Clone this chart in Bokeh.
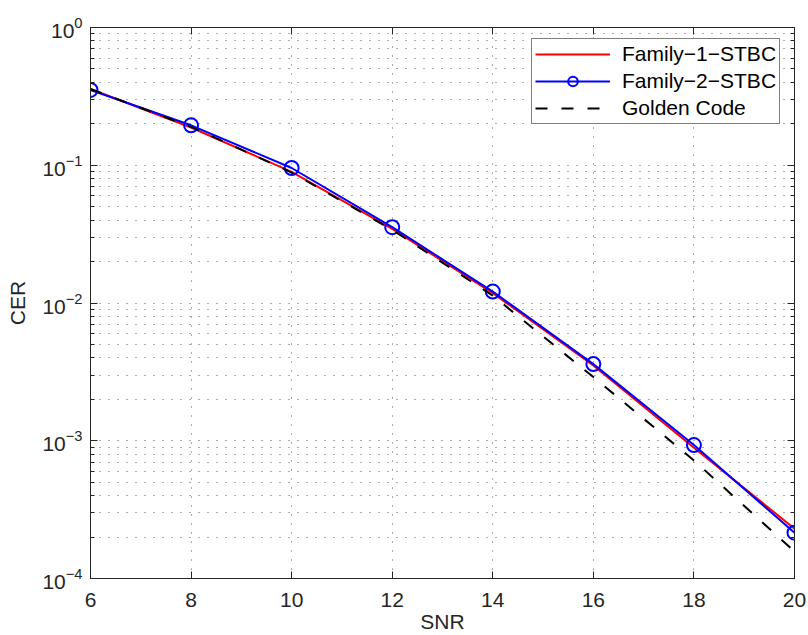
from bokeh.plotting import figure
from bokeh.models import (LogAxis, LinearAxis, FixedTicker, Range1d, Legend, LegendItem,
                          CustomJSTickFormatter, LogTickFormatter)
from bokeh.embed import file_html
from bokeh.resources import INLINE

snr = [6, 8, 10, 12, 14, 16, 18, 20]
family1_stbc = [0.358, 0.188, 0.0895, 0.0345, 0.0118, 0.00352, 0.00089, 0.00023]
family2_stbc = [0.352, 0.195, 0.0955, 0.0355, 0.0121, 0.0036, 0.00093, 0.000215]
golden_code = [0.358, 0.19, 0.0885, 0.034, 0.0113, 0.0029, 0.00072, 0.000157]

x_ticks = [6, 8, 10, 12, 14, 16, 18, 20]
y_ticks = [1e-4, 1e-3, 1e-2, 1e-1, 1.0]
y_minor = [k * 10.0 ** e for e in range(-4, 0) for k in range(2, 10)]

FONT = "Liberation Sans"
AXC = "#262626"

p = figure(width=808, height=635, x_range=Range1d(6, 20), y_range=Range1d(1e-4, 1),
           y_axis_type="log", output_backend="svg", toolbar_location=None,
           min_border_left=90, min_border_right=14, min_border_top=27, min_border_bottom=57,
           x_axis_label="SNR", y_axis_label="CER")
p.outline_line_color = AXC
p.background_fill_color = "white"
p.border_fill_color = "white"

xt = FixedTicker(ticks=x_ticks, minor_ticks=[])
yt = FixedTicker(ticks=y_ticks, minor_ticks=y_minor)
p.xaxis.ticker = xt
p.yaxis.ticker = yt
p.xgrid.ticker = xt
p.ygrid.ticker = yt
p.yaxis.formatter = LogTickFormatter()

for ax in (p.xaxis, p.yaxis):
    ax.axis_line_color = AXC
    ax.major_tick_line_color = AXC
    ax.minor_tick_line_color = AXC
    ax.major_tick_in = 7
    ax.major_tick_out = 0
    ax.minor_tick_in = 4
    ax.minor_tick_out = 0
    ax.major_label_text_font = FONT
    ax.major_label_text_font_size = "21px"
    ax.major_label_text_color = AXC
    ax.axis_label_text_font = FONT
    ax.axis_label_text_font_size = "21px"
    ax.axis_label_text_font_style = "normal"
    ax.axis_label_text_color = AXC
p.xaxis.major_label_standoff = 14
p.xaxis.axis_label_standoff = 0
p.yaxis.major_label_standoff = 8
p.yaxis.axis_label_standoff = 10

for g in (p.xgrid, p.ygrid):
    g.grid_line_color = "#333333"
    g.grid_line_alpha = 0.8
    g.grid_line_dash = "1 8"
    g.grid_line_width = 1
p.ygrid.minor_grid_line_color = "#333333"
p.ygrid.minor_grid_line_alpha = 0.8
p.ygrid.minor_grid_line_dash = "1 8"

blank = CustomJSTickFormatter(code="return ''")
top = LinearAxis(ticker=xt, formatter=blank, major_tick_in=7, major_tick_out=0,
                 minor_tick_in=0, minor_tick_out=0, major_label_standoff=0,
                 axis_line_color=AXC, major_tick_line_color=AXC)
p.add_layout(top, "above")
right = LogAxis(ticker=yt, formatter=blank, major_tick_in=7, major_tick_out=0,
                minor_tick_in=4, minor_tick_out=0, major_label_standoff=0,
                axis_line_color=AXC, major_tick_line_color=AXC, minor_tick_line_color=AXC)
p.add_layout(right, "right")

r1 = p.line(snr, family1_stbc, line_color="#ff0000", line_width=2)
r2 = p.line(snr, family2_stbc, line_color="#0000ff", line_width=2)
r2m = p.scatter(snr, family2_stbc, marker="circle", size=14, line_color="#0000ff",
                fill_alpha=0, line_width=2)
r3 = p.line(snr, golden_code, line_color="black", line_width=2, line_dash="12 14")

legend = Legend(items=[
    LegendItem(label="Family\u22121\u2212STBC", renderers=[r1]),
    LegendItem(label="Family\u22122\u2212STBC", renderers=[r2, r2m]),
    LegendItem(label="Golden Code", renderers=[r3]),
], location=(441, 454), margin=0, padding=3, spacing=3,
    glyph_width=75, glyph_height=24, label_standoff=12,
    label_text_font=FONT, label_text_font_size="21px", label_text_color="black",
    border_line_color="black", border_line_width=1, background_fill_color="white",
    background_fill_alpha=1.0)
p.add_layout(legend, "center")

open("out.html", "w").write(file_html(p, INLINE))
